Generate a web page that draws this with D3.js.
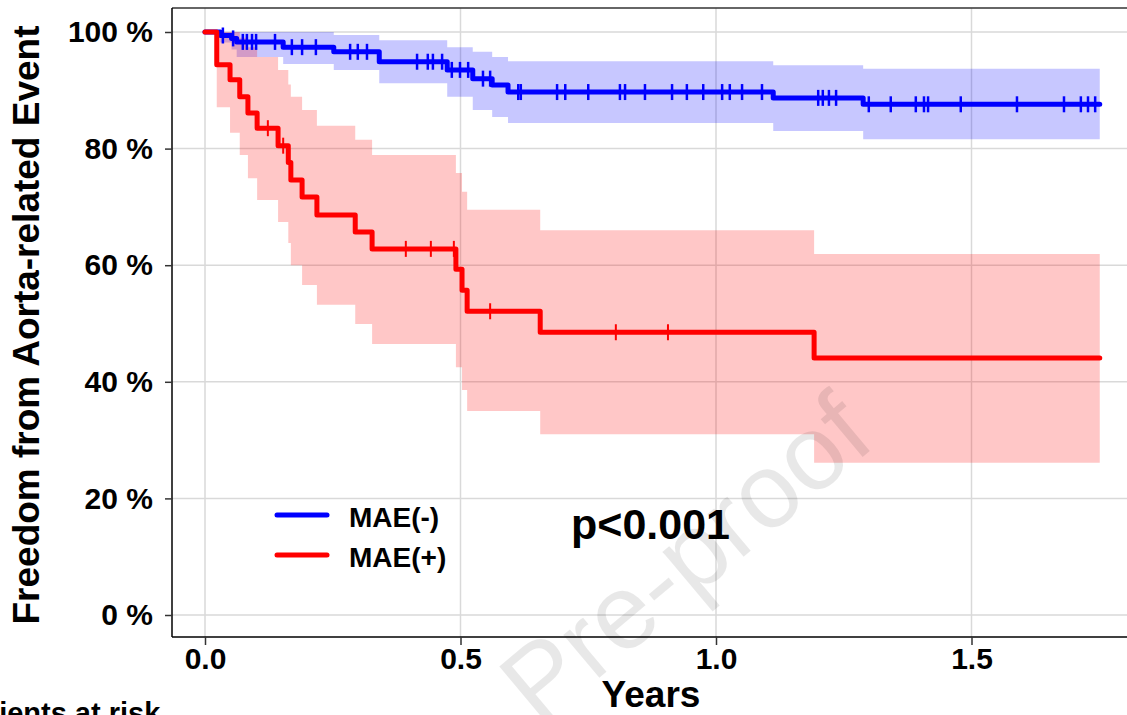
<!DOCTYPE html>
<html>
<head>
<meta charset="utf-8">
<script src="https://cdn.jsdelivr.net/npm/d3@7"></script>
<style>
  body { margin: 0; background: #fff; overflow: hidden; }
  text { font-family: "Liberation Sans", Arial, Helvetica, sans-serif; }
</style>
</head>
<body>
<div id="chart"></div>
<script>
// Kaplan-Meier estimates (time in years)
const endTime = 1.751;

const blueTimes = [0.030, 0.052, 0.062, 0.153, 0.252, 0.341, 0.474, 0.524, 0.562, 0.593, 1.112, 1.288];
const blueSurv  = [0.994, 0.989, 0.983, 0.974, 0.966, 0.949, 0.935, 0.920, 0.909, 0.897, 0.887, 0.876];
const blueLower = [0.982, 0.970, 0.957, 0.945, 0.935, 0.912, 0.889, 0.866, 0.854, 0.844, 0.830, 0.816];
const blueUpper = [1.000, 1.000, 1.000, 1.000, 0.995, 0.986, 0.974, 0.966, 0.957, 0.950, 0.943, 0.937];
const blueCensor = [0.035, 0.055, 0.074, 0.082, 0.092, 0.100, 0.137, 0.170, 0.190, 0.217, 0.284, 0.299,
  0.317, 0.415, 0.436, 0.446, 0.464, 0.483, 0.499, 0.515, 0.544, 0.558, 0.613, 0.618, 0.689, 0.705,
  0.750, 0.812, 0.822, 0.861, 0.914, 0.943, 0.975, 1.012, 1.027, 1.051, 1.090, 1.200, 1.209, 1.221,
  1.235, 1.299, 1.342, 1.391, 1.407, 1.415, 1.479, 1.589, 1.681, 1.714, 1.728, 1.742];

const redTimes = [0.023, 0.049, 0.068, 0.084, 0.102, 0.143, 0.163, 0.168, 0.190, 0.219, 0.294, 0.327, 0.491, 0.503, 0.513, 0.656, 1.192];
const redSurv  = [0.944, 0.918, 0.889, 0.861, 0.835, 0.805, 0.776, 0.746, 0.717, 0.686, 0.657, 0.628, 0.593, 0.557, 0.521, 0.485, 0.441];
const redLower = [0.871, 0.827, 0.789, 0.749, 0.712, 0.674, 0.638, 0.600, 0.566, 0.532, 0.499, 0.465, 0.425, 0.386, 0.350, 0.310, 0.261];
const redUpper = [1.000, 1.000, 0.990, 0.974, 0.957, 0.935, 0.910, 0.889, 0.866, 0.839, 0.815, 0.789, 0.758, 0.726, 0.695, 0.660, 0.619];
const redCensor = [0.123, 0.153, 0.393, 0.442, 0.487, 0.558, 0.804, 0.906];

const xTicks = [0, 0.5, 1, 1.5];
const yTicks = [0, 0.2, 0.4, 0.6, 0.8, 1];
const groups = ["MAE(-)", "MAE(+)"];
const colors = ["#0000ff", "#ff0000"];

const W = 1127, H = 715;
const panel = { left: 172, top: 8, right: 1127, bottom: 637 };

const x = d3.scaleLinear().domain([0, 1.5]).range([205, 971.5]);
const y = d3.scaleLinear().domain([0, 1]).range([615, 32]);

function buildSeries(times, surv, lower, upper) {
  const pts = [{ t: 0, s: 1, lo: 1, hi: 1 }];
  times.forEach((t, i) => pts.push({ t, s: surv[i], lo: lower[i], hi: upper[i] }));
  const last = pts[pts.length - 1];
  pts.push({ t: endTime, s: last.s, lo: last.lo, hi: last.hi });
  return pts;
}

function survAt(pts, t) {
  const i = d3.bisectRight(pts.map((p) => p.t), t) - 1;
  return pts[Math.max(0, i)].s;
}

const blue = buildSeries(blueTimes, blueSurv, blueLower, blueUpper);
const red = buildSeries(redTimes, redSurv, redLower, redUpper);

const svg = d3.select("#chart").append("svg").attr("width", W).attr("height", H);

svg.append("defs").append("clipPath").attr("id", "clip")
  .append("rect")
  .attr("x", panel.left).attr("y", panel.top)
  .attr("width", panel.right - panel.left).attr("height", panel.bottom - panel.top);

// grid
const grid = svg.append("g").attr("clip-path", "url(#clip)");
grid.selectAll(".hg").data(yTicks).enter().append("line")
  .attr("x1", panel.left).attr("x2", panel.right)
  .attr("y1", (d) => y(d)).attr("y2", (d) => y(d))
  .attr("stroke", "#d9d9d9").attr("stroke-width", 1.5);
grid.selectAll(".vg").data(xTicks).enter().append("line")
  .attr("x1", (d) => x(d)).attr("x2", (d) => x(d))
  .attr("y1", panel.top).attr("y2", panel.bottom)
  .attr("stroke", "#d9d9d9").attr("stroke-width", 1.5);

const plot = svg.append("g").attr("clip-path", "url(#clip)");

const band = d3.area()
  .curve(d3.curveStepAfter)
  .x((d) => x(d.t))
  .y0((d) => y(d.lo))
  .y1((d) => y(d.hi));

plot.append("path").datum(blue).attr("d", band)
  .attr("fill", colors[0]).attr("fill-opacity", 0.22);
plot.append("path").datum(red).attr("d", band)
  .attr("fill", colors[1]).attr("fill-opacity", 0.22);

// watermark
svg.append("text")
  .attr("transform", "translate(878,444) rotate(-40)")
  .attr("text-anchor", "end")
  .attr("font-size", 106)
  .attr("fill", "#000").attr("fill-opacity", 0.09)
  .text("Pre-proof");

const line = d3.line()
  .curve(d3.curveStepAfter)
  .x((d) => x(d.t))
  .y((d) => y(d.s));

[[blue, blueCensor, 0], [red, redCensor, 1]].forEach(([pts, cens, k]) => {
  plot.append("path").datum(pts).attr("d", line)
    .attr("fill", "none").attr("stroke", colors[k])
    .attr("stroke-width", 5).attr("stroke-linejoin", "round").attr("stroke-linecap", "round");
  plot.selectAll(".c" + k).data(cens).enter().append("line")
    .attr("x1", (d) => x(d)).attr("x2", (d) => x(d))
    .attr("y1", (d) => y(survAt(pts, d)) - 8).attr("y2", (d) => y(survAt(pts, d)) + 8)
    .attr("stroke", colors[k]).attr("stroke-width", k === 0 ? 2.5 : 2);
});

// panel border + axes
svg.append("line").attr("x1", panel.left).attr("x2", panel.right)
  .attr("y1", panel.top).attr("y2", panel.top).attr("stroke", "#333").attr("stroke-width", 1.5);
svg.append("line").attr("x1", panel.left).attr("x2", panel.left)
  .attr("y1", panel.top).attr("y2", panel.bottom).attr("stroke", "#000").attr("stroke-width", 1.5);
svg.append("line").attr("x1", panel.left).attr("x2", panel.right)
  .attr("y1", panel.bottom).attr("y2", panel.bottom).attr("stroke", "#000").attr("stroke-width", 1.5);

const yAxis = svg.append("g")
  .attr("transform", `translate(${panel.left},0)`)
  .call(d3.axisLeft(y).tickValues(yTicks).tickSize(7).tickPadding(12)
    .tickFormat((d) => Math.round(d * 100) + " %"));
const xAxis = svg.append("g")
  .attr("transform", `translate(0,${panel.bottom})`)
  .call(d3.axisBottom(x).tickValues(xTicks).tickSize(8).tickPadding(3)
    .tickFormat(d3.format(".1f")));

[yAxis, xAxis].forEach((a) => {
  a.select(".domain").remove();
  a.selectAll(".tick line").attr("stroke", "#333").attr("stroke-width", 1.5);
  a.selectAll(".tick text")
    .attr("fill", "#000")
    .attr("font-size", 30)
    .attr("font-weight", "bold")
    .style("font-family", '"Liberation Sans", Arial, sans-serif');
});

svg.append("text")
  .attr("transform", "translate(39,325) rotate(-90)")
  .attr("text-anchor", "middle")
  .attr("font-size", 37).attr("font-weight", "bold")
  .text("Freedom from Aorta-related Event");

svg.append("text")
  .attr("x", 651).attr("y", 707)
  .attr("text-anchor", "middle")
  .attr("font-size", 37).attr("font-weight", "bold")
  .text("Years");

svg.append("text")
  .attr("x", -46).attr("y", 723)
  .attr("font-size", 29).attr("font-weight", "bold")
  .text("Patients at risk");

// legend
const legend = svg.append("g");
groups.forEach((g, i) => {
  const ly = 515 + i * 40;
  legend.append("line")
    .attr("x1", 277).attr("x2", 327).attr("y1", ly).attr("y2", ly)
    .attr("stroke", colors[i]).attr("stroke-width", 5).attr("stroke-linecap", "round");
  legend.append("text")
    .attr("x", 349).attr("y", ly + 12)
    .attr("font-size", 28).attr("font-weight", "bold")
    .text(g);
});

svg.append("text")
  .attr("x", 571).attr("y", 539)
  .attr("font-size", 43).attr("font-weight", "bold")
  .text("p<0.001");
</script>
</body>
</html>
